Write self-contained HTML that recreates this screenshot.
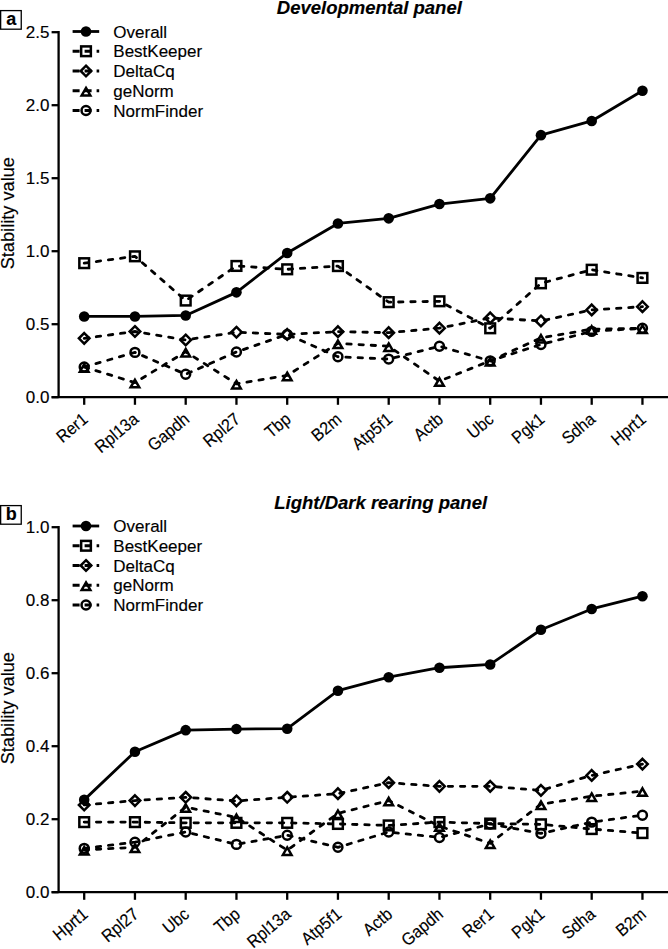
<!DOCTYPE html>
<html><head><meta charset="utf-8"><style>
html,body{margin:0;padding:0;background:#fff;}
body{width:668px;height:949px;overflow:hidden;}
svg{display:block;}
text{font-family:"Liberation Sans",sans-serif;fill:#000;stroke:#000;stroke-width:0.15px;}
.tl{font-size:17px;}
.cl{font-size:17.4px;}
.yl{font-size:18.2px;}
.title{font-size:18.5px;font-weight:bold;font-style:italic;}
.letter{font-size:18px;font-weight:bold;}
.ax{stroke:#000;stroke-width:2.3;fill:none;}
.dl{stroke:#000;stroke-width:2.8;fill:none;stroke-linejoin:round;}
.dash{stroke-dasharray:4.4 7.8;stroke-dashoffset:0;stroke-linecap:round;}
.m{fill:none;stroke:#000;stroke-width:2.5;stroke-linejoin:miter;}
</style></head><body>
<svg width="668" height="949" viewBox="0 0 668 949">
<text x="276.8" y="13.7" class="title">Developmental panel</text>
<rect x="0.65" y="10.6" width="20.6" height="18.6" fill="none" stroke="#000" stroke-width="1.3"/>
<text x="11.2" y="24.6" class="letter" text-anchor="middle">a</text>
<line x1="58.6" y1="31.05" x2="58.6" y2="397.2" class="ax"/>
<line x1="51.6" y1="397.2" x2="58.6" y2="397.2" class="ax"/>
<text x="49.4" y="403.1" class="tl" text-anchor="end">0.0</text>
<line x1="51.6" y1="324.2" x2="58.6" y2="324.2" class="ax"/>
<text x="49.4" y="330.1" class="tl" text-anchor="end">0.5</text>
<line x1="51.6" y1="251.2" x2="58.6" y2="251.2" class="ax"/>
<text x="49.4" y="257.1" class="tl" text-anchor="end">1.0</text>
<line x1="51.6" y1="178.2" x2="58.6" y2="178.2" class="ax"/>
<text x="49.4" y="184.1" class="tl" text-anchor="end">1.5</text>
<line x1="51.6" y1="105.2" x2="58.6" y2="105.2" class="ax"/>
<text x="49.4" y="111.1" class="tl" text-anchor="end">2.0</text>
<line x1="51.6" y1="32.2" x2="58.6" y2="32.2" class="ax"/>
<text x="49.4" y="38.1" class="tl" text-anchor="end">2.5</text>
<line x1="51.6" y1="397.2" x2="668" y2="397.2" class="ax"/>
<line x1="84.2" y1="397.2" x2="84.2" y2="404.8" class="ax"/>
<text transform="translate(89 421.1) rotate(-40) scale(0.92 1)" class="cl" text-anchor="end">Rer1</text>
<line x1="134.95" y1="397.2" x2="134.95" y2="404.8" class="ax"/>
<text transform="translate(139.75 421.1) rotate(-40) scale(0.92 1)" class="cl" text-anchor="end">Rpl13a</text>
<line x1="185.7" y1="397.2" x2="185.7" y2="404.8" class="ax"/>
<text transform="translate(190.5 421.1) rotate(-40) scale(0.92 1)" class="cl" text-anchor="end">Gapdh</text>
<line x1="236.45" y1="397.2" x2="236.45" y2="404.8" class="ax"/>
<text transform="translate(241.25 421.1) rotate(-40) scale(0.92 1)" class="cl" text-anchor="end">Rpl27</text>
<line x1="287.2" y1="397.2" x2="287.2" y2="404.8" class="ax"/>
<text transform="translate(292 421.1) rotate(-40) scale(0.92 1)" class="cl" text-anchor="end">Tbp</text>
<line x1="337.95" y1="397.2" x2="337.95" y2="404.8" class="ax"/>
<text transform="translate(342.75 421.1) rotate(-40) scale(0.92 1)" class="cl" text-anchor="end">B2m</text>
<line x1="388.7" y1="397.2" x2="388.7" y2="404.8" class="ax"/>
<text transform="translate(393.5 421.1) rotate(-40) scale(0.92 1)" class="cl" text-anchor="end">Atp5f1</text>
<line x1="439.45" y1="397.2" x2="439.45" y2="404.8" class="ax"/>
<text transform="translate(444.25 421.1) rotate(-40) scale(0.92 1)" class="cl" text-anchor="end">Actb</text>
<line x1="490.2" y1="397.2" x2="490.2" y2="404.8" class="ax"/>
<text transform="translate(495 421.1) rotate(-40) scale(0.92 1)" class="cl" text-anchor="end">Ubc</text>
<line x1="540.95" y1="397.2" x2="540.95" y2="404.8" class="ax"/>
<text transform="translate(545.75 421.1) rotate(-40) scale(0.92 1)" class="cl" text-anchor="end">Pgk1</text>
<line x1="591.7" y1="397.2" x2="591.7" y2="404.8" class="ax"/>
<text transform="translate(596.5 421.1) rotate(-40) scale(0.92 1)" class="cl" text-anchor="end">Sdha</text>
<line x1="642.45" y1="397.2" x2="642.45" y2="404.8" class="ax"/>
<text transform="translate(647.25 421.1) rotate(-40) scale(0.92 1)" class="cl" text-anchor="end">Hprt1</text>
<text transform="translate(13.8 213.2) rotate(-90)" class="yl" text-anchor="middle">Stability value</text>
<polyline points="84.2,366.98 134.95,352.38 185.7,374.28 236.45,351.94 287.2,334.42 337.95,356.76 388.7,359.09 439.45,346.25 490.2,360.85 540.95,344.49 591.7,331.35 642.45,328.29" class="dl dash"/>
<polyline points="84.2,366.98 134.95,382.6 185.7,351.79 236.45,383.77 287.2,375.45 337.95,343.33 388.7,346.25 439.45,381.14 490.2,360.85 540.95,337.92 591.7,329.16 642.45,328.29" class="dl dash"/>
<polyline points="84.2,338.36 134.95,331.5 185.7,339.97 236.45,332.23 287.2,334.42 337.95,331.65 388.7,332.67 439.45,328.14 490.2,317.92 540.95,320.99 591.7,309.89 642.45,306.68" class="dl dash"/>
<polyline points="84.2,263.17 134.95,256.31 185.7,300.55 236.45,265.95 287.2,269.3 337.95,266.09 388.7,302.15 439.45,301.28 490.2,328.29 540.95,283.32 591.7,269.74 642.45,277.92" class="dl dash"/>
<polyline points="84.2,316.46 134.95,316.46 185.7,315.44 236.45,292.37 287.2,252.95 337.95,223.46 388.7,218.35 439.45,204.04 490.2,198.35 540.95,135.13 591.7,120.97 642.45,90.75" class="dl"/>
<circle cx="84.2" cy="366.98" r="4.45" class="m"/>
<circle cx="134.95" cy="352.38" r="4.45" class="m"/>
<circle cx="185.7" cy="374.28" r="4.45" class="m"/>
<circle cx="236.45" cy="351.94" r="4.45" class="m"/>
<circle cx="287.2" cy="334.42" r="4.45" class="m"/>
<circle cx="337.95" cy="356.76" r="4.45" class="m"/>
<circle cx="388.7" cy="359.09" r="4.45" class="m"/>
<circle cx="439.45" cy="346.25" r="4.45" class="m"/>
<circle cx="490.2" cy="360.85" r="4.45" class="m"/>
<circle cx="540.95" cy="344.49" r="4.45" class="m"/>
<circle cx="591.7" cy="331.35" r="4.45" class="m"/>
<circle cx="642.45" cy="328.29" r="4.45" class="m"/>
<path d="M84.2 364.18L88.53 371.68L79.87 371.68Z" class="m"/>
<path d="M134.95 379.8L139.28 387.3L130.62 387.3Z" class="m"/>
<path d="M185.7 348.99L190.03 356.49L181.37 356.49Z" class="m"/>
<path d="M236.45 380.97L240.78 388.47L232.12 388.47Z" class="m"/>
<path d="M287.2 372.65L291.53 380.15L282.87 380.15Z" class="m"/>
<path d="M337.95 340.53L342.28 348.03L333.62 348.03Z" class="m"/>
<path d="M388.7 343.45L393.03 350.95L384.37 350.95Z" class="m"/>
<path d="M439.45 378.34L443.78 385.84L435.12 385.84Z" class="m"/>
<path d="M490.2 358.05L494.53 365.55L485.87 365.55Z" class="m"/>
<path d="M540.95 335.12L545.28 342.62L536.62 342.62Z" class="m"/>
<path d="M591.7 326.36L596.03 333.86L587.37 333.86Z" class="m"/>
<path d="M642.45 325.49L646.78 332.99L638.12 332.99Z" class="m"/>
<path d="M84.2 333.06L89.5 338.36L84.2 343.66L78.9 338.36Z" class="m"/>
<path d="M134.95 326.2L140.25 331.5L134.95 336.8L129.65 331.5Z" class="m"/>
<path d="M185.7 334.67L191 339.97L185.7 345.27L180.4 339.97Z" class="m"/>
<path d="M236.45 326.93L241.75 332.23L236.45 337.53L231.15 332.23Z" class="m"/>
<path d="M287.2 329.12L292.5 334.42L287.2 339.72L281.9 334.42Z" class="m"/>
<path d="M337.95 326.35L343.25 331.65L337.95 336.95L332.65 331.65Z" class="m"/>
<path d="M388.7 327.37L394 332.67L388.7 337.97L383.4 332.67Z" class="m"/>
<path d="M439.45 322.84L444.75 328.14L439.45 333.44L434.15 328.14Z" class="m"/>
<path d="M490.2 312.62L495.5 317.92L490.2 323.22L484.9 317.92Z" class="m"/>
<path d="M540.95 315.69L546.25 320.99L540.95 326.29L535.65 320.99Z" class="m"/>
<path d="M591.7 304.59L597 309.89L591.7 315.19L586.4 309.89Z" class="m"/>
<path d="M642.45 301.38L647.75 306.68L642.45 311.98L637.15 306.68Z" class="m"/>
<rect x="79.35" y="258.32" width="9.7" height="9.7" class="m"/>
<rect x="130.1" y="251.46" width="9.7" height="9.7" class="m"/>
<rect x="180.85" y="295.7" width="9.7" height="9.7" class="m"/>
<rect x="231.6" y="261.1" width="9.7" height="9.7" class="m"/>
<rect x="282.35" y="264.45" width="9.7" height="9.7" class="m"/>
<rect x="333.1" y="261.24" width="9.7" height="9.7" class="m"/>
<rect x="383.85" y="297.3" width="9.7" height="9.7" class="m"/>
<rect x="434.6" y="296.43" width="9.7" height="9.7" class="m"/>
<rect x="485.35" y="323.44" width="9.7" height="9.7" class="m"/>
<rect x="536.1" y="278.47" width="9.7" height="9.7" class="m"/>
<rect x="586.85" y="264.89" width="9.7" height="9.7" class="m"/>
<rect x="637.6" y="273.07" width="9.7" height="9.7" class="m"/>
<circle cx="84.2" cy="316.46" r="5.3" fill="#000"/>
<circle cx="134.95" cy="316.46" r="5.3" fill="#000"/>
<circle cx="185.7" cy="315.44" r="5.3" fill="#000"/>
<circle cx="236.45" cy="292.37" r="5.3" fill="#000"/>
<circle cx="287.2" cy="252.95" r="5.3" fill="#000"/>
<circle cx="337.95" cy="223.46" r="5.3" fill="#000"/>
<circle cx="388.7" cy="218.35" r="5.3" fill="#000"/>
<circle cx="439.45" cy="204.04" r="5.3" fill="#000"/>
<circle cx="490.2" cy="198.35" r="5.3" fill="#000"/>
<circle cx="540.95" cy="135.13" r="5.3" fill="#000"/>
<circle cx="591.7" cy="120.97" r="5.3" fill="#000"/>
<circle cx="642.45" cy="90.75" r="5.3" fill="#000"/>
<line x1="72.6" y1="31.5" x2="99.2" y2="31.5" class="dl"/>
<circle cx="86" cy="31.5" r="5.3" fill="#000"/>
<text x="113.3" y="37.7" class="tl">Overall</text>
<line x1="72.6" y1="51.25" x2="99.2" y2="51.25" class="dl" stroke-dasharray="7 5"/>
<rect x="81.15" y="46.4" width="9.7" height="9.7" class="m"/>
<text x="113.3" y="57.45" class="tl">BestKeeper</text>
<line x1="72.6" y1="71" x2="99.2" y2="71" class="dl" stroke-dasharray="7 5"/>
<path d="M86 65.7L91.3 71L86 76.3L80.7 71Z" class="m"/>
<text x="113.3" y="77.2" class="tl">DeltaCq</text>
<line x1="72.6" y1="90.75" x2="99.2" y2="90.75" class="dl" stroke-dasharray="7 5"/>
<path d="M86 87.95L90.33 95.45L81.67 95.45Z" class="m"/>
<text x="113.3" y="96.95" class="tl">geNorm</text>
<line x1="72.6" y1="110.5" x2="99.2" y2="110.5" class="dl" stroke-dasharray="7 5"/>
<circle cx="86" cy="110.5" r="4.45" class="m"/>
<text x="113.3" y="116.7" class="tl">NormFinder</text>
<text x="274.3" y="508.7" class="title">Light/Dark rearing panel</text>
<rect x="0.65" y="505.6" width="20.6" height="18.6" fill="none" stroke="#000" stroke-width="1.3"/>
<text x="11.2" y="519.6" class="letter" text-anchor="middle">b</text>
<line x1="58.6" y1="526.05" x2="58.6" y2="892.2" class="ax"/>
<line x1="51.6" y1="892.2" x2="58.6" y2="892.2" class="ax"/>
<text x="49.4" y="898.1" class="tl" text-anchor="end">0.0</text>
<line x1="51.6" y1="819.2" x2="58.6" y2="819.2" class="ax"/>
<text x="49.4" y="825.1" class="tl" text-anchor="end">0.2</text>
<line x1="51.6" y1="746.2" x2="58.6" y2="746.2" class="ax"/>
<text x="49.4" y="752.1" class="tl" text-anchor="end">0.4</text>
<line x1="51.6" y1="673.2" x2="58.6" y2="673.2" class="ax"/>
<text x="49.4" y="679.1" class="tl" text-anchor="end">0.6</text>
<line x1="51.6" y1="600.2" x2="58.6" y2="600.2" class="ax"/>
<text x="49.4" y="606.1" class="tl" text-anchor="end">0.8</text>
<line x1="51.6" y1="527.2" x2="58.6" y2="527.2" class="ax"/>
<text x="49.4" y="533.1" class="tl" text-anchor="end">1.0</text>
<line x1="51.6" y1="892.2" x2="668" y2="892.2" class="ax"/>
<line x1="84.2" y1="892.2" x2="84.2" y2="899.8" class="ax"/>
<text transform="translate(89 916.1) rotate(-40) scale(0.92 1)" class="cl" text-anchor="end">Hprt1</text>
<line x1="134.95" y1="892.2" x2="134.95" y2="899.8" class="ax"/>
<text transform="translate(139.75 916.1) rotate(-40) scale(0.92 1)" class="cl" text-anchor="end">Rpl27</text>
<line x1="185.7" y1="892.2" x2="185.7" y2="899.8" class="ax"/>
<text transform="translate(190.5 916.1) rotate(-40) scale(0.92 1)" class="cl" text-anchor="end">Ubc</text>
<line x1="236.45" y1="892.2" x2="236.45" y2="899.8" class="ax"/>
<text transform="translate(241.25 916.1) rotate(-40) scale(0.92 1)" class="cl" text-anchor="end">Tbp</text>
<line x1="287.2" y1="892.2" x2="287.2" y2="899.8" class="ax"/>
<text transform="translate(292 916.1) rotate(-40) scale(0.92 1)" class="cl" text-anchor="end">Rpl13a</text>
<line x1="337.95" y1="892.2" x2="337.95" y2="899.8" class="ax"/>
<text transform="translate(342.75 916.1) rotate(-40) scale(0.92 1)" class="cl" text-anchor="end">Atp5f1</text>
<line x1="388.7" y1="892.2" x2="388.7" y2="899.8" class="ax"/>
<text transform="translate(393.5 916.1) rotate(-40) scale(0.92 1)" class="cl" text-anchor="end">Actb</text>
<line x1="439.45" y1="892.2" x2="439.45" y2="899.8" class="ax"/>
<text transform="translate(444.25 916.1) rotate(-40) scale(0.92 1)" class="cl" text-anchor="end">Gapdh</text>
<line x1="490.2" y1="892.2" x2="490.2" y2="899.8" class="ax"/>
<text transform="translate(495 916.1) rotate(-40) scale(0.92 1)" class="cl" text-anchor="end">Rer1</text>
<line x1="540.95" y1="892.2" x2="540.95" y2="899.8" class="ax"/>
<text transform="translate(545.75 916.1) rotate(-40) scale(0.92 1)" class="cl" text-anchor="end">Pgk1</text>
<line x1="591.7" y1="892.2" x2="591.7" y2="899.8" class="ax"/>
<text transform="translate(596.5 916.1) rotate(-40) scale(0.92 1)" class="cl" text-anchor="end">Sdha</text>
<line x1="642.45" y1="892.2" x2="642.45" y2="899.8" class="ax"/>
<text transform="translate(647.25 916.1) rotate(-40) scale(0.92 1)" class="cl" text-anchor="end">B2m</text>
<text transform="translate(13.8 708.2) rotate(-90)" class="yl" text-anchor="middle">Stability value</text>
<polyline points="84.2,848.4 134.95,842.2 185.7,831.98 236.45,844.38 287.2,835.26 337.95,847.31 388.7,831.98 439.45,837.45 490.2,823.95 540.95,833.44 591.7,822.12 642.45,815.19" class="dl dash"/>
<polyline points="84.2,849.86 134.95,847.31 185.7,807.16 236.45,817.38 287.2,850.23 337.95,813.36 388.7,800.59 439.45,826.13 490.2,843.29 540.95,804.24 591.7,796.21 642.45,791.1" class="dl dash"/>
<polyline points="84.2,804.97 134.95,800.59 185.7,797.3 236.45,800.95 287.2,797.3 337.95,793.65 388.7,782.7 439.45,786.35 490.2,786.35 540.95,790.37 591.7,775.4 642.45,764.09" class="dl dash"/>
<polyline points="84.2,822.12 134.95,822.12 185.7,822.85 236.45,822.85 287.2,822.85 337.95,823.95 388.7,825.41 439.45,822.12 490.2,823.58 540.95,824.31 591.7,829.06 642.45,833.07" class="dl dash"/>
<polyline points="84.2,799.86 134.95,751.68 185.7,730.14 236.45,729.05 287.2,728.68 337.95,690.72 388.7,677.22 439.45,667.73 490.2,664.44 540.95,629.77 591.7,608.96 642.45,596.18" class="dl"/>
<circle cx="84.2" cy="848.4" r="4.45" class="m"/>
<circle cx="134.95" cy="842.2" r="4.45" class="m"/>
<circle cx="185.7" cy="831.98" r="4.45" class="m"/>
<circle cx="236.45" cy="844.38" r="4.45" class="m"/>
<circle cx="287.2" cy="835.26" r="4.45" class="m"/>
<circle cx="337.95" cy="847.31" r="4.45" class="m"/>
<circle cx="388.7" cy="831.98" r="4.45" class="m"/>
<circle cx="439.45" cy="837.45" r="4.45" class="m"/>
<circle cx="490.2" cy="823.95" r="4.45" class="m"/>
<circle cx="540.95" cy="833.44" r="4.45" class="m"/>
<circle cx="591.7" cy="822.12" r="4.45" class="m"/>
<circle cx="642.45" cy="815.19" r="4.45" class="m"/>
<path d="M84.2 847.06L88.53 854.56L79.87 854.56Z" class="m"/>
<path d="M134.95 844.51L139.28 852.01L130.62 852.01Z" class="m"/>
<path d="M185.7 804.36L190.03 811.86L181.37 811.86Z" class="m"/>
<path d="M236.45 814.58L240.78 822.08L232.12 822.08Z" class="m"/>
<path d="M287.2 847.43L291.53 854.93L282.87 854.93Z" class="m"/>
<path d="M337.95 810.56L342.28 818.06L333.62 818.06Z" class="m"/>
<path d="M388.7 797.79L393.03 805.29L384.37 805.29Z" class="m"/>
<path d="M439.45 823.34L443.78 830.84L435.12 830.84Z" class="m"/>
<path d="M490.2 840.49L494.53 847.99L485.87 847.99Z" class="m"/>
<path d="M540.95 801.44L545.28 808.94L536.62 808.94Z" class="m"/>
<path d="M591.7 793.41L596.03 800.91L587.37 800.91Z" class="m"/>
<path d="M642.45 788.3L646.78 795.8L638.12 795.8Z" class="m"/>
<path d="M84.2 799.67L89.5 804.97L84.2 810.26L78.9 804.97Z" class="m"/>
<path d="M134.95 795.29L140.25 800.59L134.95 805.88L129.65 800.59Z" class="m"/>
<path d="M185.7 792L191 797.3L185.7 802.6L180.4 797.3Z" class="m"/>
<path d="M236.45 795.65L241.75 800.95L236.45 806.25L231.15 800.95Z" class="m"/>
<path d="M287.2 792L292.5 797.3L287.2 802.6L281.9 797.3Z" class="m"/>
<path d="M337.95 788.35L343.25 793.65L337.95 798.95L332.65 793.65Z" class="m"/>
<path d="M388.7 777.4L394 782.7L388.7 788L383.4 782.7Z" class="m"/>
<path d="M439.45 781.05L444.75 786.35L439.45 791.65L434.15 786.35Z" class="m"/>
<path d="M490.2 781.05L495.5 786.35L490.2 791.65L484.9 786.35Z" class="m"/>
<path d="M540.95 785.07L546.25 790.37L540.95 795.66L535.65 790.37Z" class="m"/>
<path d="M591.7 770.1L597 775.4L591.7 780.7L586.4 775.4Z" class="m"/>
<path d="M642.45 758.79L647.75 764.09L642.45 769.38L637.15 764.09Z" class="m"/>
<rect x="79.35" y="817.27" width="9.7" height="9.7" class="m"/>
<rect x="130.1" y="817.27" width="9.7" height="9.7" class="m"/>
<rect x="180.85" y="818" width="9.7" height="9.7" class="m"/>
<rect x="231.6" y="818" width="9.7" height="9.7" class="m"/>
<rect x="282.35" y="818" width="9.7" height="9.7" class="m"/>
<rect x="333.1" y="819.1" width="9.7" height="9.7" class="m"/>
<rect x="383.85" y="820.56" width="9.7" height="9.7" class="m"/>
<rect x="434.6" y="817.27" width="9.7" height="9.7" class="m"/>
<rect x="485.35" y="818.73" width="9.7" height="9.7" class="m"/>
<rect x="536.1" y="819.46" width="9.7" height="9.7" class="m"/>
<rect x="586.85" y="824.21" width="9.7" height="9.7" class="m"/>
<rect x="637.6" y="828.22" width="9.7" height="9.7" class="m"/>
<circle cx="84.2" cy="799.86" r="5.3" fill="#000"/>
<circle cx="134.95" cy="751.68" r="5.3" fill="#000"/>
<circle cx="185.7" cy="730.14" r="5.3" fill="#000"/>
<circle cx="236.45" cy="729.05" r="5.3" fill="#000"/>
<circle cx="287.2" cy="728.68" r="5.3" fill="#000"/>
<circle cx="337.95" cy="690.72" r="5.3" fill="#000"/>
<circle cx="388.7" cy="677.22" r="5.3" fill="#000"/>
<circle cx="439.45" cy="667.73" r="5.3" fill="#000"/>
<circle cx="490.2" cy="664.44" r="5.3" fill="#000"/>
<circle cx="540.95" cy="629.77" r="5.3" fill="#000"/>
<circle cx="591.7" cy="608.96" r="5.3" fill="#000"/>
<circle cx="642.45" cy="596.18" r="5.3" fill="#000"/>
<line x1="72.6" y1="526" x2="99.2" y2="526" class="dl"/>
<circle cx="86" cy="526" r="5.3" fill="#000"/>
<text x="113.3" y="532.2" class="tl">Overall</text>
<line x1="72.6" y1="545.75" x2="99.2" y2="545.75" class="dl" stroke-dasharray="7 5"/>
<rect x="81.15" y="540.9" width="9.7" height="9.7" class="m"/>
<text x="113.3" y="551.95" class="tl">BestKeeper</text>
<line x1="72.6" y1="565.5" x2="99.2" y2="565.5" class="dl" stroke-dasharray="7 5"/>
<path d="M86 560.2L91.3 565.5L86 570.8L80.7 565.5Z" class="m"/>
<text x="113.3" y="571.7" class="tl">DeltaCq</text>
<line x1="72.6" y1="585.25" x2="99.2" y2="585.25" class="dl" stroke-dasharray="7 5"/>
<path d="M86 582.45L90.33 589.95L81.67 589.95Z" class="m"/>
<text x="113.3" y="591.45" class="tl">geNorm</text>
<line x1="72.6" y1="605" x2="99.2" y2="605" class="dl" stroke-dasharray="7 5"/>
<circle cx="86" cy="605" r="4.45" class="m"/>
<text x="113.3" y="611.2" class="tl">NormFinder</text>
</svg>
</body></html>
